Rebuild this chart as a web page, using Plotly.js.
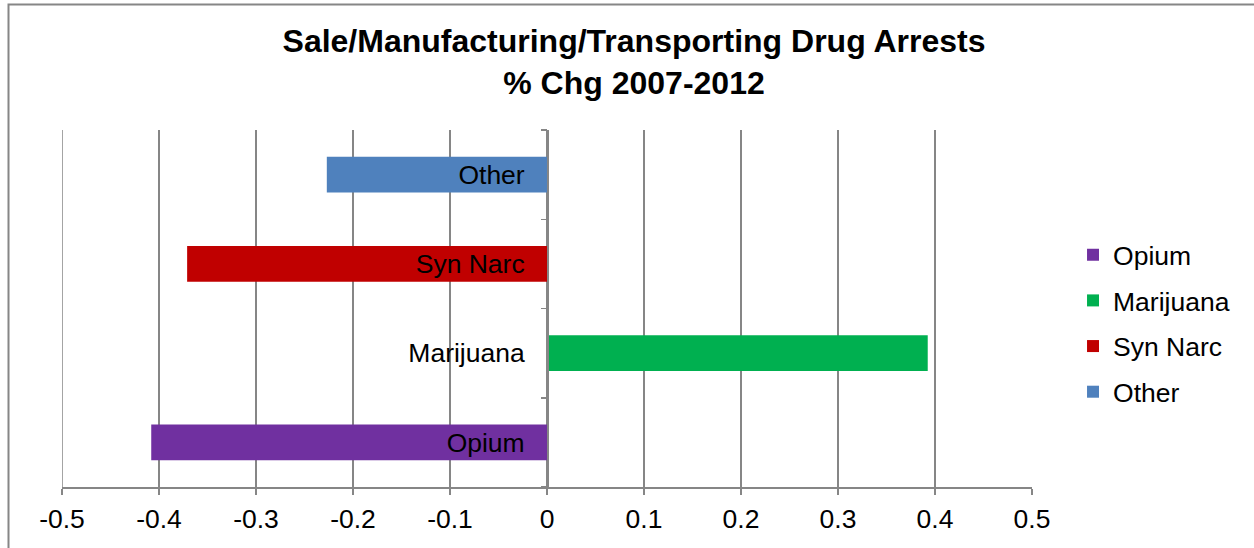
<!DOCTYPE html>
<html>
<head>
<meta charset="utf-8">
<script src="https://cdn.plot.ly/plotly-3.0.1.min.js"></script>
<style>
html, body { margin: 0; padding: 0; background: #fff; overflow: hidden; }
#chart { width: 1254px; height: 548px; }
</style>
</head>
<body>
<div id="chart"></div>
<script>
// Data
const categories = ['Opium', 'Marijuana', 'Syn Narc', 'Other'];
const pctChange = [-0.408, 0.3925, -0.371, -0.227];
const barColors = ['#7030A0', '#00B050', '#C00000', '#4F81BD'];
const xTickVals = [-0.5, -0.4, -0.3, -0.2, -0.1, 0, 0.1, 0.2, 0.3, 0.4, 0.5];
const xTickText = ['-0.5', '-0.4', '-0.3', '-0.2', '-0.1', '0', '0.1', '0.2', '0.3', '0.4', '0.5'];
const chartTitle = 'Sale/Manufacturing/Transporting Drug Arrests<br>% Chg 2007-2012';

const FONT = 'Liberation Sans, Arial, sans-serif';
const GRID = '#868686';
const FS = 26.5;

const traces = categories.map((c, i) => ({
  type: 'bar',
  orientation: 'h',
  name: c,
  x: [pctChange[i]],
  y: [c],
  width: 0.4,
  marker: { color: barColors[i], line: { width: 0 } },
  legendgroup: 'g' + i,
  hoverinfo: 'x+y'
}));

const layout = {
  width: 1254,
  height: 548,
  margin: { l: 62, r: 222, t: 130, b: 61 },
  paper_bgcolor: '#ffffff',
  plot_bgcolor: '#ffffff',
  font: { family: FONT, color: '#000000', size: FS },
  title: {
    text: chartTitle,
    font: { family: FONT, size: 32, color: '#000000', weight: 'bold' },
    x: 634 / 1254,
    xanchor: 'center',
    xref: 'container',
    yref: 'container',
    y: 0.905,
    yanchor: 'top'
  },
  barmode: 'relative',
  showlegend: true,
  legend: {
    x: 1.0423,
    xanchor: 'left',
    y: 0.717,
    yanchor: 'top',
    traceorder: 'grouped',
    tracegroupgap: 8.2,
    font: { family: FONT, size: FS, color: '#000000' },
    bgcolor: 'rgba(0,0,0,0)'
  },
  xaxis: {
    range: [-0.5, 0.5],
    tickvals: xTickVals,
    ticktext: xTickText,
    showgrid: true,
    gridcolor: GRID,
    gridwidth: 1.5,
    zeroline: false,
    showline: true,
    linecolor: GRID,
    linewidth: 1.5,
    ticks: 'outside',
    ticklen: 6,
    tickcolor: GRID,
    tickwidth: 1.5,
    tickfont: { family: FONT, size: FS, color: '#000000' },
    ticklabelstandoff: 2,
    fixedrange: true
  },
  yaxis: {
    type: 'category',
    categoryorder: 'array',
    categoryarray: categories,
    range: [-0.5, 3.5],
    anchor: 'free',
    position: 0.5,
    showgrid: false,
    zeroline: false,
    showline: true,
    linecolor: GRID,
    linewidth: 1.5,
    ticks: 'outside',
    tickson: 'boundaries',
    ticklen: 6,
    tickcolor: GRID,
    tickwidth: 1.5,
    tickfont: { family: FONT, size: FS, color: '#000000' },
    ticklabelstandoff: 17,
    fixedrange: true
  },
  shapes: [{
    type: 'rect',
    xref: 'paper', yref: 'paper',
    x0: (8.5 - 62) / 970, x1: (1262 - 62) / 970,
    y0: (487 - 560) / 357, y1: (487 - 4.5) / 357,
    line: { color: GRID, width: 2 },
    fillcolor: 'rgba(0,0,0,0)',
    layer: 'below'
  }, {
    type: 'line',
    xref: 'x', yref: 'paper',
    x0: xTickVals[0], x1: xTickVals[0],
    y0: 0, y1: 1,
    line: { color: GRID, width: 1.5 },
    layer: 'below'
  }]
};

Plotly.newPlot('chart', traces, layout, { displayModeBar: false, staticPlot: true });
</script>
</body>
</html>
